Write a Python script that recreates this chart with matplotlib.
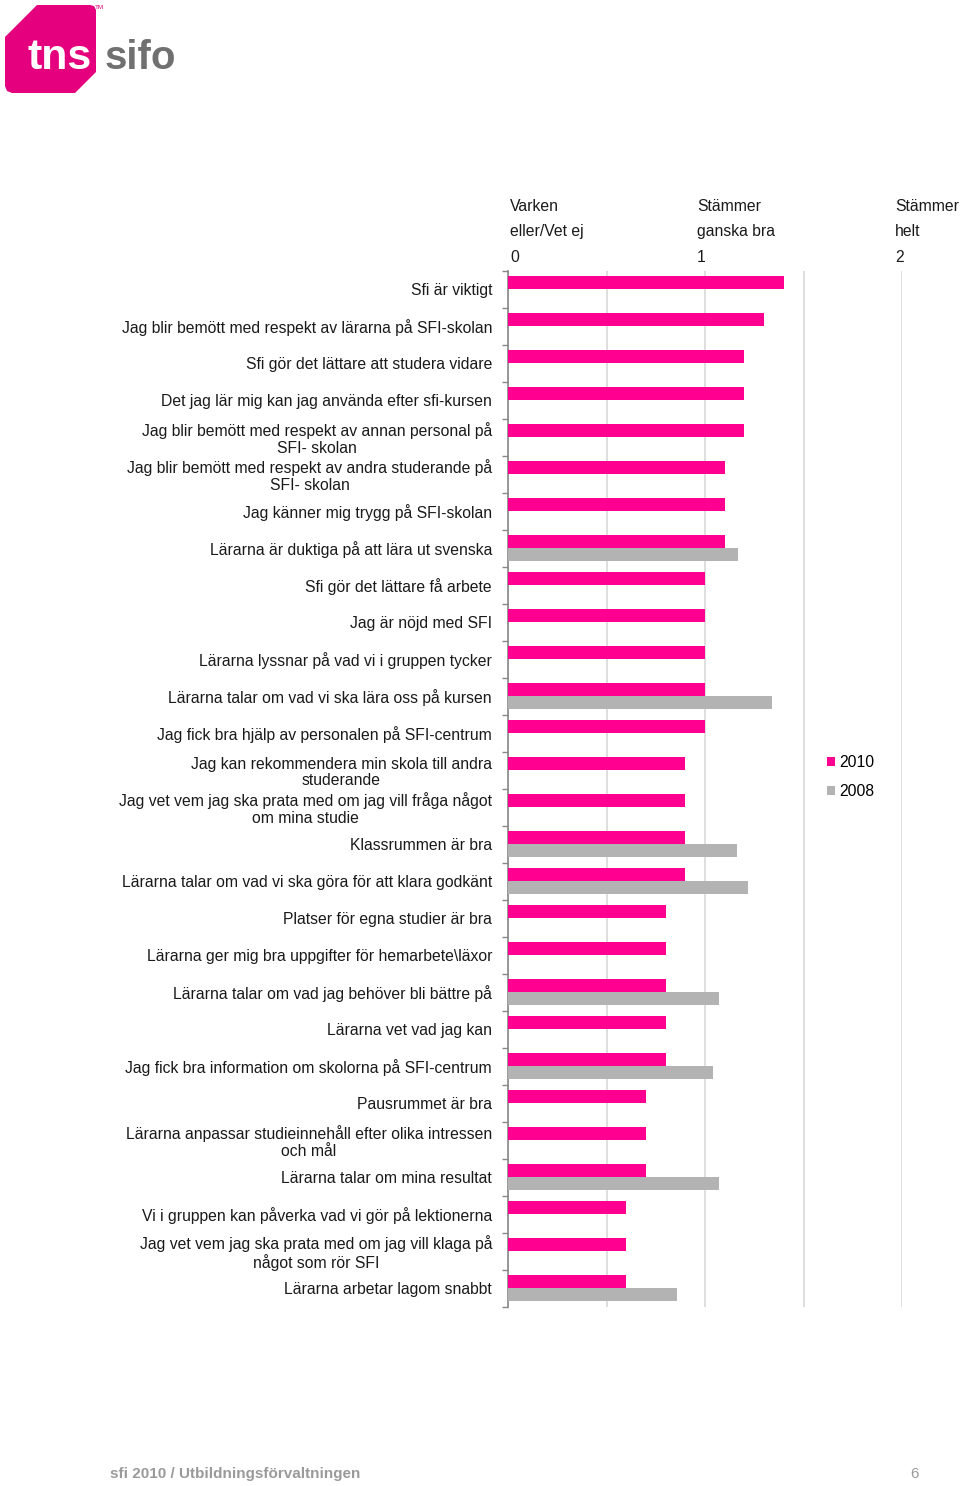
import matplotlib
matplotlib.use("Agg")
import matplotlib.pyplot as plt
from matplotlib.patches import Polygon, Patch
import matplotlib.transforms as mtransforms
import numpy as np

plt.rcParams['font.family'] = ['Liberation Sans', 'DejaVu Sans']

# --- data ---
categories = [
    "Sfi är viktigt",
    "Jag blir bemött med respekt av lärarna på SFI-skolan",
    "Sfi gör det lättare att studera vidare",
    "Det jag lär mig kan jag använda efter sfi-kursen",
    "Jag blir bemött med respekt av annan personal på\nSFI- skolan",
    "Jag blir bemött med respekt av andra studerande på\nSFI- skolan",
    "Jag känner mig trygg på SFI-skolan",
    "Lärarna är duktiga på att lära ut svenska",
    "Sfi gör det lättare få arbete",
    "Jag är nöjd med SFI",
    "Lärarna lyssnar på vad vi i gruppen tycker",
    "Lärarna talar om vad vi ska lära oss på kursen",
    "Jag fick bra hjälp av personalen på SFI-centrum",
    "Jag kan rekommendera min skola till andra\nstuderande",
    "Jag vet vem jag ska prata med om jag vill fråga något\nom mina studie",
    "Klassrummen är bra",
    "Lärarna talar om vad vi ska göra för att klara godkänt",
    "Platser för egna studier är bra",
    "Lärarna ger mig bra uppgifter för hemarbete\\läxor",
    "Lärarna talar om vad jag behöver bli bättre på",
    "Lärarna vet vad jag kan",
    "Jag fick bra information om skolorna på SFI-centrum",
    "Pausrummet är bra",
    "Lärarna anpassar studieinnehåll efter olika intressen\noch mål",
    "Lärarna talar om mina resultat",
    "Vi i gruppen kan påverka vad vi gör på lektionerna",
    "Jag vet vem jag ska prata med om jag vill klaga på\nnågot som rör SFI",
    "Lärarna arbetar lagom snabbt",
]
values_2010 = [1.4, 1.3, 1.2, 1.2, 1.2, 1.1, 1.1, 1.1, 1.0, 1.0, 1.0, 1.0, 1.0, 0.9,
               0.9, 0.9, 0.9, 0.8, 0.8, 0.8, 0.8, 0.8, 0.7, 0.7, 0.7, 0.6, 0.6, 0.6]
nan = np.nan
values_2008 = [nan, nan, nan, nan, nan, nan, nan, 1.17, nan, nan, nan, 1.34, nan, nan,
               nan, 1.16, 1.22, nan, nan, 1.07, nan, 1.04, nan, nan, 1.07, nan, nan, 0.86]
series_names = ["2010", "2008"]
scale_labels = ["Varken\neller/Vet ej\n0", "Stämmer\nganska bra\n1", "Stämmer\nhelt\n2"]
scale_values = [0, 1, 2]

PINK = "#FF0090"
GRAY = "#B3B3B3"
TEXT = "#1a1a1a"
FS = 11.3

fig = plt.figure(figsize=(9.6, 14.86), dpi=100)

# background layer in pixel coordinates (logo + footer)
bg = fig.add_axes([0, 0, 1, 1], zorder=0)
bg.set_xlim(0, 960)
bg.set_ylim(1486, 0)
bg.axis("off")
logo = [(5, 37), (37, 5), (90, 5), (94, 6), (96, 10), (96, 72), (75, 93),
        (12, 93), (7, 91), (5, 86)]
bg.add_patch(Polygon(logo, closed=True, facecolor="#E5007E", edgecolor="none"))
bg.text(27, 69, "tns", color="white", fontsize=31, fontweight="bold", va="baseline")
bg.text(105, 69, "sifo", color="#707070", fontsize=29, fontweight="bold", va="baseline")
bg.text(95, 9, "TM", color="#E5007E", fontsize=4.5)
bg.text(110, 1474, "sfi 2010 / Utbildningsförvaltningen", color="#9a9a9a", fontsize=11,
        fontweight="bold", va="center", family=["Liberation Sans Narrow", "Liberation Sans"])
bg.text(910, 1474, "6", color="#9a9a9a", fontsize=11, va="center",
        family=["Liberation Sans Narrow", "Liberation Sans"])

# main chart
ax = fig.add_axes([508 / 960, 179.5 / 1486, 394 / 960, 1036 / 1486], zorder=1)
ax.patch.set_alpha(0)
y = np.arange(len(categories))
h = 0.35
ax.barh(y - h / 2, values_2010, height=h, color=PINK, label=series_names[0], zorder=3)
ax.barh(y + h / 2, values_2008, height=h, color=GRAY, label=series_names[1], zorder=3)

ax.set_xlim(0, 2)
ax.set_ylim(len(categories) - 0.5, -0.5)
ax.set_xticks(np.arange(0, 2.01, 0.5))
ax.tick_params(axis="x", length=0, labelbottom=False, labeltop=False)
ax.grid(axis="x", color="#d9d9d9", linewidth=1.2, zorder=0)

ax.set_yticks(y)
ax.set_yticklabels(categories, fontsize=FS, color=TEXT, multialignment="center",
                   linespacing=1.1)
ax.tick_params(axis="y", which="major", length=0, pad=11.5)
ax.set_yticks(np.arange(-0.5, len(categories), 1), minor=True)
ax.tick_params(axis="y", which="minor", length=4, color="#888888", width=1)

for side in ["top", "right", "bottom"]:
    ax.spines[side].set_visible(False)
ax.spines["left"].set_color("#888888")
ax.spines["left"].set_linewidth(1.2)

# scale header
offset = {0: 2, 1: -8, 2: -7}
for val, lab in zip(scale_values, scale_labels):
    tr = mtransforms.blended_transform_factory(ax.transData, ax.transAxes) + \
        mtransforms.ScaledTranslation(offset[val] / 100, 6 / 100, fig.dpi_scale_trans)
    ax.text(val, 1.0, lab, transform=tr, ha="left", va="bottom", fontsize=FS,
            color=TEXT, linespacing=1.86)

handles = [Patch(facecolor=PINK, label=series_names[0]),
           Patch(facecolor=GRAY, label=series_names[1])]
fig.legend(handles=handles, loc="upper left", bbox_to_anchor=(827 / 960, 1 - 755 / 1486),
           frameon=False, fontsize=FS, handlelength=0.5, handleheight=0.5,
           handletextpad=0.3, labelspacing=0.9, borderpad=0, borderaxespad=0)

fig.savefig("out.png", dpi=100)
